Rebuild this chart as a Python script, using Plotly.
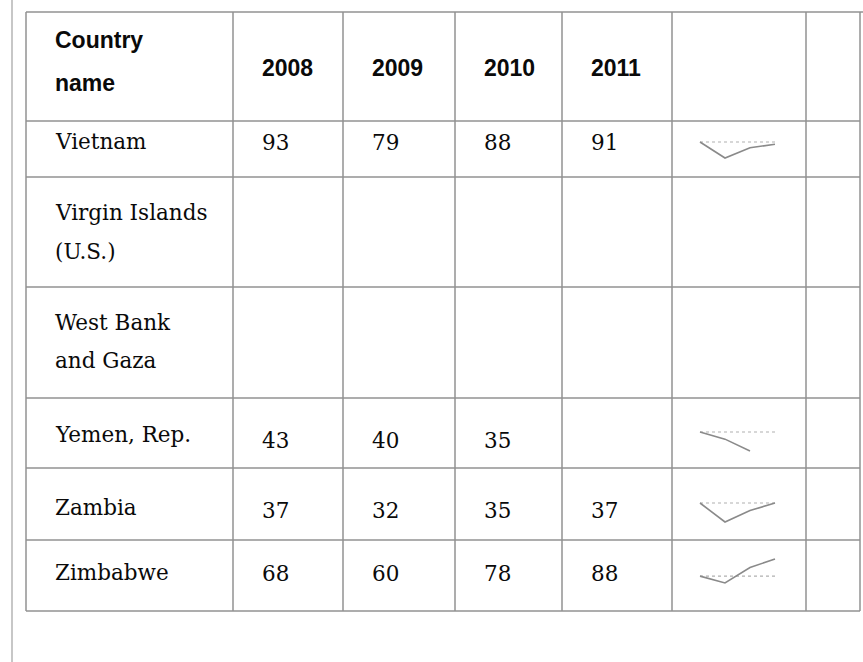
import plotly.graph_objects as go

# ---------------- data ----------------
years = ["2008", "2009", "2010", "2011"]
year_nums = [2008, 2009, 2010, 2011]
header_label = ["Country", "name"]
country_lines = [
    ["Vietnam"],
    ["Virgin Islands", "(U.S.)"],
    ["West Bank", "and Gaza"],
    ["Yemen, Rep."],
    ["Zambia"],
    ["Zimbabwe"],
]
v2008 = [93, None, None, 43, 37, 68]
v2009 = [79, None, None, 40, 32, 60]
v2010 = [88, None, None, 35, 35, 78]
v2011 = [91, None, None, None, 37, 88]
values = [v2008, v2009, v2010, v2011]

# ---------------- layout (pixels) ----------------
W, H = 863, 662
COL_X = [26, 233, 343, 455, 562, 672, 806, 860]
ROW_Y = [12, 121, 177, 287, 398, 468, 540, 611]
PAGE_X = 12
NAME_X = 53
VAL_PAD = 27
HEADER_LINE_Y = [40, 83]
YEAR_Y = 68
ROW_LINE_Y = [[141], [212, 251], [322, 360], [434], [507], [572]]
ROW_VAL_Y = [142, None, None, 440, 510, 573]
SPARK_X = (700, 775)
SPARK_BOX = {0: (142, 158), 3: (432, 451), 4: (503, 522), 5: (559, 583)}

LINE_COL = "#929292"
TEXT_COL = "#0a0a0a"
SANS = "Liberation Sans"
SERIF = "DejaVu Serif"


def px(x):
    return x / W


def py(y):
    return 1 - y / H


shapes = []
# page edge line
shapes.append(dict(type="line", xref="paper", yref="paper", x0=px(PAGE_X), x1=px(PAGE_X),
                   y0=py(0), y1=py(H), line=dict(color="#b4b4b4", width=1.5)))
for x in COL_X:
    shapes.append(dict(type="line", xref="paper", yref="paper", x0=px(x), x1=px(x),
                       y0=py(ROW_Y[0]), y1=py(ROW_Y[-1]), line=dict(color=LINE_COL, width=1.5)))
for i, y in enumerate(ROW_Y):
    x1 = W if i == 0 else COL_X[-1]
    shapes.append(dict(type="line", xref="paper", yref="paper", x0=px(COL_X[0]), x1=px(x1),
                       y0=py(y), y1=py(y), line=dict(color=LINE_COL, width=1.5)))

annotations = []


def add_text(text, x, y, font, size, bold=False):
    t = f"<b>{text}</b>" if bold else text
    annotations.append(dict(text=t, x=px(x), y=py(y), xref="paper", yref="paper",
                            xanchor="left", yanchor="middle", showarrow=False,
                            font=dict(family=font, size=size, color=TEXT_COL)))


for line, y in zip(header_label, HEADER_LINE_Y):
    add_text(line, NAME_X, y, SANS, 23, bold=True)
for j, yr in enumerate(years):
    add_text(yr, COL_X[j + 1] + VAL_PAD, YEAR_Y, SANS, 23, bold=True)

for r, lines in enumerate(country_lines):
    for line, y in zip(lines, ROW_LINE_Y[r]):
        add_text(line, NAME_X, y, SERIF, 21.5)
    for j in range(4):
        v = values[j][r]
        if v is not None:
            add_text(str(v), COL_X[j + 1] + VAL_PAD, ROW_VAL_Y[r], SERIF, 21.5)

fig = go.Figure()
layout_axes = {}
k = 0
for r, (top, bot) in SPARK_BOX.items():
    k += 1
    xs = [year_nums[j] for j in range(4) if values[j][r] is not None]
    ys = [values[j][r] for j in range(4) if values[j][r] is not None]
    lo, hi = min(ys), max(ys)
    ppu = (bot - top) / (hi - lo)
    pad_px = 2
    yr_range = [lo - pad_px / ppu, hi + pad_px / ppu]
    ydom = [py(bot + pad_px), py(top - pad_px)]
    ppx = (SPARK_X[1] - SPARK_X[0]) / (year_nums[-1] - year_nums[0])
    xr_range = [year_nums[0] - pad_px / ppx, year_nums[-1] + pad_px / ppx]
    xdom = [px(SPARK_X[0] - pad_px), px(SPARK_X[1] + pad_px)]
    xa = "x" if k == 1 else f"x{k}"
    ya = "y" if k == 1 else f"y{k}"
    fig.add_trace(go.Scatter(x=[year_nums[0], year_nums[-1]], y=[ys[0], ys[0]], mode="lines",
                             line=dict(color="#b0b0b0", width=1.2, dash="dot"),
                             xaxis=xa, yaxis=ya, hoverinfo="skip", showlegend=False))
    fig.add_trace(go.Scatter(x=xs, y=ys, mode="lines", line=dict(color="#8a8a8a", width=1.6),
                             xaxis=xa, yaxis=ya, showlegend=False))
    xname = "xaxis" if k == 1 else f"xaxis{k}"
    yname = "yaxis" if k == 1 else f"yaxis{k}"
    layout_axes[xname] = dict(domain=xdom, range=xr_range, visible=False, fixedrange=True, anchor=ya)
    layout_axes[yname] = dict(domain=ydom, range=yr_range, visible=False, fixedrange=True, anchor=xa)

fig.update_layout(
    width=W, height=H, margin=dict(l=0, r=0, t=0, b=0),
    paper_bgcolor="white", plot_bgcolor="rgba(0,0,0,0)",
    shapes=shapes, annotations=annotations, showlegend=False,
    **layout_axes,
)

fig.write_html("out.html", config={"displayModeBar": False},
               post_script="document.body.style.margin='0';")
